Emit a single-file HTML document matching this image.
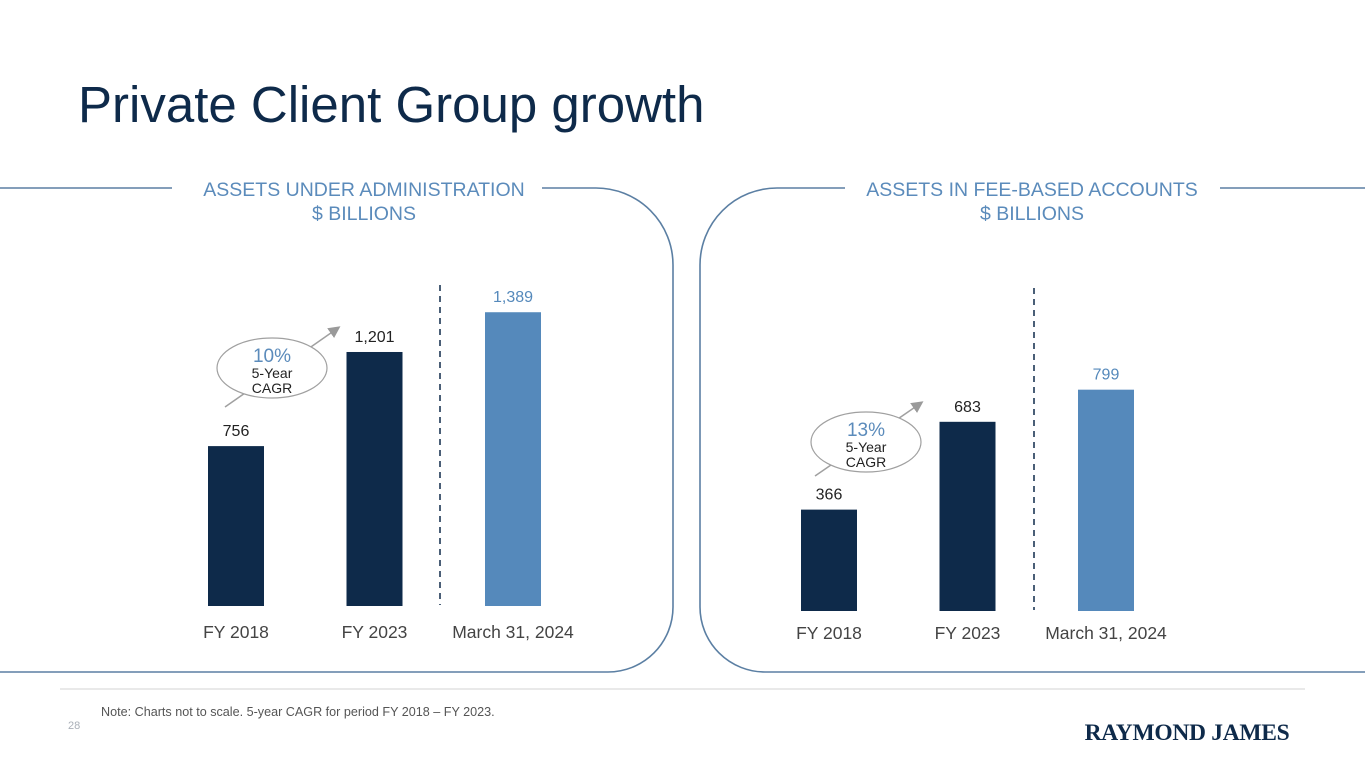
<!DOCTYPE html>
<html><head><meta charset="utf-8"><style>
body{margin:0;width:1365px;height:768px;background:#fff;overflow:hidden;font-family:"Liberation Sans",Arial,sans-serif}
svg{display:block}
</style></head><body>
<svg width="1365" height="768" id="s">
<text x="78" y="122" font-size="51" fill="#0e2a4a">Private Client Group growth</text>
<g fill="none" stroke="#5b7fa3" stroke-width="1.6">
<path d="M0 188 H172 M542 188 H596 A77 77 0 0 1 673 265 V607 A65 65 0 0 1 608 672 H0"/>
<path d="M1365 188 H1220 M845 188 H777 A77 77 0 0 0 700 265 V607 A65 65 0 0 0 765 672 H1365"/>
</g>
<line x1="60" y1="689" x2="1305" y2="689" stroke="#e2e2e2" stroke-width="1.5"/>
<g font-size="19.5" fill="#5b8bbb" text-anchor="middle">
<text x="364" y="196">ASSETS UNDER ADMINISTRATION</text>
<text x="364" y="220">$ BILLIONS</text>
<text x="1032" y="196">ASSETS IN FEE-BASED ACCOUNTS</text>
<text x="1032" y="220">$ BILLIONS</text>
</g>
<line x1="440" y1="285" x2="440" y2="605" stroke="#0e2a4a" stroke-width="1.5" stroke-dasharray="6,5"/>
<line x1="1034" y1="288" x2="1034" y2="610" stroke="#0e2a4a" stroke-width="1.5" stroke-dasharray="6,5"/>
<defs><marker id="ah" markerWidth="8" markerHeight="8" refX="6" refY="4" orient="auto"><path d="M0 0 L8 4 L0 8Z" fill="#9a9a9a"/></marker></defs>
<g>
<line x1="225" y1="407" x2="338" y2="328" stroke="#a0a0a0" stroke-width="1.5" marker-end="url(#ah)"/>
<ellipse cx="272" cy="368" rx="55" ry="30" fill="#fff" stroke="#a0a0a0" stroke-width="1.2"/>
<text x="272" y="362" text-anchor="middle" font-size="19" fill="#5b8bbb">10%</text>
<text x="272" y="378" text-anchor="middle" font-size="14" fill="#222">5-Year</text>
<text x="272" y="393" text-anchor="middle" font-size="14" fill="#222">CAGR</text>
</g>
<g>
<line x1="815" y1="476" x2="921" y2="403" stroke="#a0a0a0" stroke-width="1.5" marker-end="url(#ah)"/>
<ellipse cx="866" cy="442" rx="55" ry="30" fill="#fff" stroke="#a0a0a0" stroke-width="1.2"/>
<text x="866" y="436" text-anchor="middle" font-size="19" fill="#5b8bbb">13%</text>
<text x="866" y="452" text-anchor="middle" font-size="14" fill="#222">5-Year</text>
<text x="866" y="467" text-anchor="middle" font-size="14" fill="#222">CAGR</text>
</g>
<g id="charts"></g>
<text x="101" y="716" font-size="12.6" fill="#555">Note: Charts not to scale. 5-year CAGR for period FY 2018 – FY 2023.</text>
<text x="68" y="729" font-size="11" fill="#aab0b8">28</text>
<text x="1187" y="740" text-anchor="middle" font-size="23.5" font-weight="bold" fill="#0e2a4a" font-family="Liberation Serif,serif" letter-spacing="-0.3">RAYMOND JAMES</text>
</svg>
<script>
const categories = ["FY 2018", "FY 2023", "March 31, 2024"];
const auaValues = [756, 1201, 1389];
const feeValues = [366, 683, 799];
const auaLabels = ["756", "1,201", "1,389"];
const feeLabels = ["366", "683", "799"];
const NS = "http://www.w3.org/2000/svg";
const g = document.getElementById("charts");
function mk(t, a){const e=document.createElementNS(NS,t);for(const k in a)e.setAttribute(k,a[k]);g.appendChild(e);return e;}
function draw(vals, labels, cfg, prefix){
  const y = v => cfg.base - v*cfg.scale;
  vals.forEach((v,i)=>{
    const cx = cfg.x0 + i*cfg.step;
    const col = i===2 ? "#5589bb" : "#0e2a4a";
    const r = mk("rect",{x:cx-28,y:y(v),width:56,height:cfg.base-y(v),fill:col});
    
    
    const t = mk("text",{x:cx,y:y(v)-10,"text-anchor":"middle","font-size":16,fill:i===2?"#5589bb":"#222"});
    t.textContent = labels[i];
    
    
    const c = mk("text",{x:cx,y:cfg.catY,"text-anchor":"middle","font-size":17.5,fill:"#444"});
    c.textContent = categories[i];
    
    
  });
}
draw(auaValues, auaLabels, {base:606, scale:0.2115, x0:236, step:138.5, catY:638}, "aua");
draw(feeValues, feeLabels, {base:611, scale:0.277, x0:829, step:138.5, catY:639}, "fee");
</script>
</body></html>
